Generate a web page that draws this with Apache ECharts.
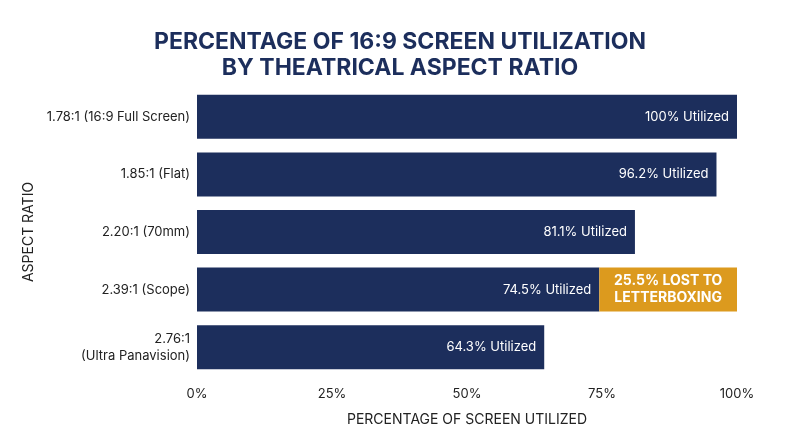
<!DOCTYPE html>
<html><head><meta charset="utf-8">
<script src="https://cdn.jsdelivr.net/npm/echarts@6/dist/echarts.min.js"></script>
<style>body{margin:0}#c{width:800px;height:447px}</style>
</head><body><div id="c"></div>
<script>
var categories = ['1.78:1 (16:9 Full Screen)', '1.85:1 (Flat)', '2.20:1 (70mm)', '2.39:1 (Scope)', '2.76:1\n(Ultra Panavision)'];
var utilized = [100, 96.2, 81.1, 74.5, 64.3];
var lost = [0, 0, 0, 25.5, 0];
var ticks = ['0%', '25%', '50%', '75%', '100%'];

var navy = '#1c2e5c';
var chart = echarts.init(document.getElementById('c'));
chart.setOption({
    title: {
        text: 'PERCENTAGE OF 16:9 SCREEN UTILIZATION\nBY THEATRICAL ASPECT RATIO',
        left: 'center', top: 24,
        textStyle: {color: navy, fontSize: 23, fontWeight: 'bold', fontFamily: 'Inter', lineHeight: 26}
    },
    grid: {left: 197, right: 63, top: 88, bottom: 71},
    xAxis: {
        type: 'value', min: 0, max: 100, interval: 25,
        axisLabel: {formatter: function (v) { return ticks[v / 25]; }, color: '#222', fontSize: 13, fontFamily: 'Inter', margin: 12},
        splitLine: {show: false}, axisLine: {show: false}, axisTick: {show: false},
        name: 'PERCENTAGE OF SCREEN UTILIZED', nameLocation: 'middle', nameGap: 37,
        nameTextStyle: {color: '#222', fontSize: 14, fontFamily: 'Inter'}
    },
    yAxis: {
        type: 'category', data: categories, inverse: true,
        axisLabel: {color: '#222', fontSize: 13, fontFamily: 'Inter', margin: 7, lineHeight: 17},
        axisLine: {show: false}, axisTick: {show: false},
        name: 'ASPECT RATIO', nameLocation: 'middle', nameGap: 160, nameRotate: 90,
        nameTextStyle: {color: '#222', fontSize: 14, fontFamily: 'Inter'}
    },
    series: [{
        type: 'bar', stack: 'a', data: utilized, barWidth: 44,
        itemStyle: {color: navy},
        label: {show: true, position: 'insideRight', color: '#fff', fontSize: 13, fontFamily: 'Inter', distance: 8,
            formatter: '{c}% Utilized'}
    }, {
        type: 'bar', stack: 'a', data: lost, barWidth: 44,
        itemStyle: {color: '#dc9a1e'},
        label: {show: true, position: 'inside', color: '#fff', fontSize: 14, fontWeight: 'bold', fontFamily: 'Inter', lineHeight: 17,
            formatter: function (p) { return p.value ? p.value + '% LOST TO\nLETTERBOXING' : ''; }}
    }]
});
</script></body></html>
